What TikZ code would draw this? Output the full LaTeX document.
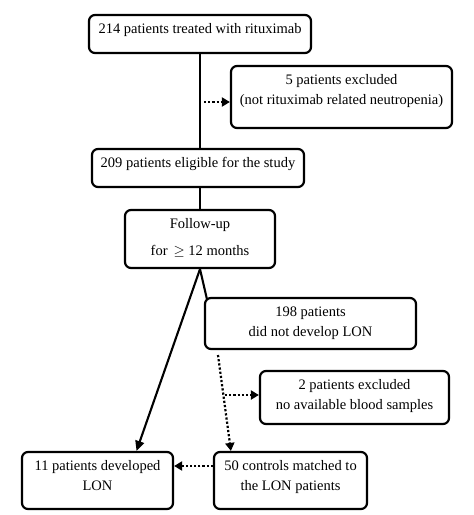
\documentclass[tikz,border=0pt]{standalone}
\usepackage{fontspec}
\setmainfont{Liberation Serif}
\usetikzlibrary{arrows.meta}
\begin{document}
\begin{tikzpicture}[x=1pt,y=-1pt,
 box/.style={draw, line width=2.2pt, rounded corners=6pt, inner sep=0pt},
 txt/.style={inner sep=0pt, align=center, font=\fontsize{14.5}{20}\selectfont, anchor=north},
 solidarrow/.style={line width=2.1pt, -{Triangle[length=10pt,width=9pt]}},
 dotarrow/.style={line width=2.2pt, dash pattern=on 2.2pt off 2pt, -{Triangle[length=8pt,width=9pt]}},
 link/.style={line width=2.1pt}]
\useasboundingbox (0,0) rectangle (474,515);
\fill[white] (0,0) rectangle (474,515);
% boxes
\node[box, minimum width=222pt, minimum height=38pt] (b1) at (200,34) {};
\node[box, minimum width=221pt, minimum height=62pt] (b2) at (341.5,97) {};
\node[box, minimum width=212pt, minimum height=38pt] (b3) at (198,168) {};
\node[box, minimum width=150pt, minimum height=58pt] (b4) at (200,239) {};
\node[box, minimum width=211pt, minimum height=51pt] (b5) at (310.5,323.5) {};
\node[box, minimum width=189pt, minimum height=53pt] (b6) at (354.5,397.5) {};
\node[box, minimum width=151pt, minimum height=57pt] (b7) at (97.5,480.5) {};
\node[box, minimum width=153pt, minimum height=57pt] (b8) at (290.5,480.5) {};
% texts
\node[txt] (t1) at ([yshift=-9.5pt]b1.north) {214 patients treated with rituximab};
\node[txt] (t2) at ([yshift=-9.5pt]b2.north) {5 patients excluded\\(not rituximab related neutropenia)};
\node[txt] (t3) at ([yshift=-9.5pt]b3.north) {209 patients eligible for the study};
\node[txt] (t4) at ([yshift=-9.5pt]b4.north) {Follow-up\\[7pt]for \,$\geq$ 12 months};
\node[txt] (t5) at ([yshift=-9.5pt]b5.north) {198 patients\\did not develop LON};
\node[txt] (t6) at ([yshift=-9.5pt]b6.north) {2 patients excluded\\no available blood samples};
\node[txt] (t7) at ([yshift=-9.5pt]b7.north) {11 patients developed\\LON};
\node[txt] (t8) at ([yshift=-9.5pt]b8.north) {50 controls matched to\\the LON patients};
% connectors
\draw[link] (b1.south) -- (b1.south |- b3.north);
\coordinate (d1) at (204,102);
\draw[dotarrow] (d1) -- (d1 -| b2.west);
\draw[link] (b4.north |- b3.south) -- (b4.north);
\draw[solidarrow] (b4.south) -- ([xshift=39pt]b7.north);
\draw[link] (b4.south) -- ([xshift=3pt,yshift=-2pt]b5.north west);
\coordinate (d2) at (218,355);
\draw[dotarrow] (d2) -- ([xshift=18pt]b8.north west);
\coordinate (d3) at (225,395);
\draw[dotarrow] (d3) -- (d3 -| b6.west);
\coordinate (d4) at ([yshift=14.5pt]b8.west);
\draw[dotarrow] (d4) -- (d4 -| b7.east);
\end{tikzpicture}
\end{document}
